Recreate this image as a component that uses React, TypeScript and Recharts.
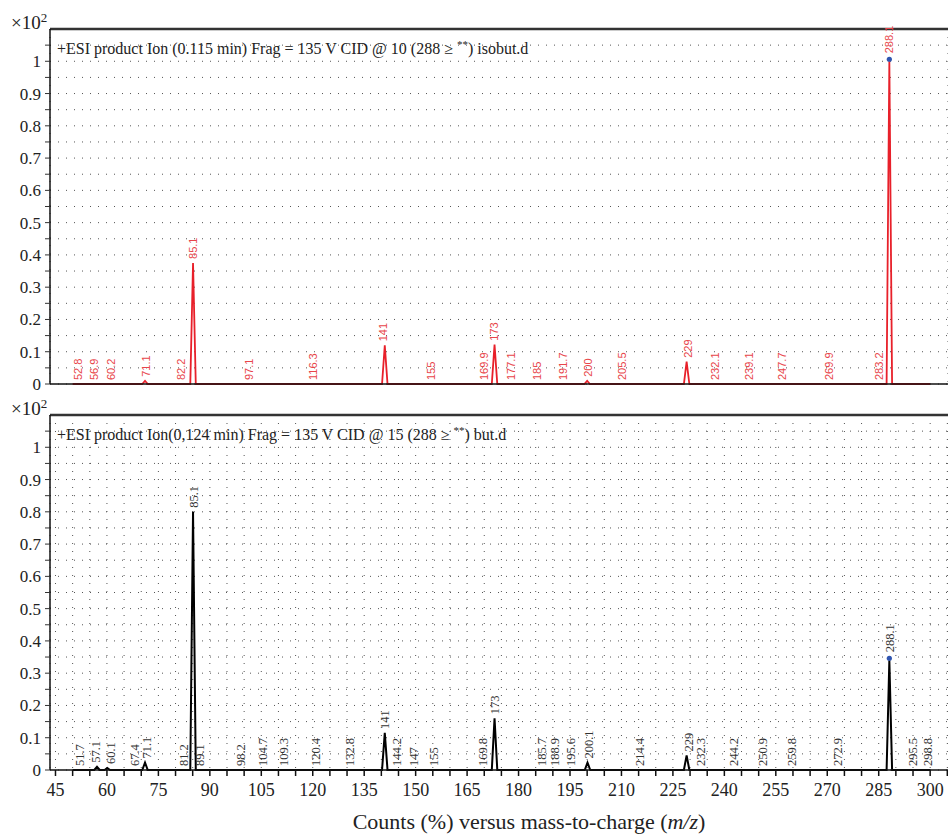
import React from 'react';
import { ComposedChart, Line, Scatter, XAxis, YAxis, CartesianGrid, ReferenceLine } from 'recharts';

// x axis (m/z)
const xTicks = [45, 50, 55, 60, 65, 70, 75, 80, 85, 90, 95, 100, 105, 110, 115, 120, 125, 130, 135, 140, 145, 150, 155, 160, 165, 170, 175, 180, 185, 190, 195, 200, 205, 210, 215, 220, 225, 230, 235, 240, 245, 250, 255, 260, 265, 270, 275, 280, 285, 290, 295, 300, 305];
const xLabelTicks = [45, 60, 75, 90, 105, 120, 135, 150, 165, 180, 195, 210, 225, 240, 255, 270, 285, 300];
const yTicks = [0, 0.05, 0.1, 0.15, 0.2, 0.25, 0.3, 0.35, 0.4, 0.45, 0.5, 0.55, 0.6, 0.65, 0.7, 0.75, 0.8, 0.85, 0.9, 0.95, 1, 1.05];

// top spectrum: isobut.d
const topPeakMz = [71.1, 85.1, 141, 173, 200, 229, 288.1];
const topPeakH = [0.01, 0.375, 0.12, 0.122, 0.01, 0.069, 1.0];
const topLabelText = ['52.8', '56.9', '60.2', '71.1', '82.2', '85.1', '97.1', '116.3', '141', '155', '169.9', '173', '177.1', '185', '191.7', '200', '205.5', '229', '232.1', '239.1', '247.7', '269.9', '283.2', '288.1'];
const topLabelPos = [51.7, 56.2, 61.2, 71.4, 81.5, 85.1, 101.5, 120.1, 140.6, 154.4, 169.9, 172.9, 177.7, 185.5, 192.9, 200.3, 210.1, 229.3, 237.3, 247.3, 256.7, 270.6, 285.2, 288.1];
const topLabelH = [0, 0, 0, 0.01, 0, 0.375, 0, 0, 0.12, 0, 0, 0.122, 0, 0, 0, 0.01, 0, 0.069, 0, 0, 0, 0, 0, 1.0];

// bottom spectrum: but.d
const botPeakMz = [57.1, 60.1, 71.1, 85.1, 141, 173, 200.1, 229, 288.1];
const botPeakH = [0.01, 0.006, 0.023, 0.8, 0.115, 0.16, 0.023, 0.045, 0.34];
const botLabelText = ['51.7', '57.1', '60.1', '67.4', '71.1', '81.2', '85.1', '89.1', '98.2', '104.7', '109.3', '120.4', '132.8', '141', '144.2', '147', '155', '169.8', '173', '185.7', '188.9', '195.6', '200.1', '214.4', '229', '232.3', '244.2', '250.9', '259.8', '272.9', '288.1', '295.5', '298.8'];
const botLabelPos = [51.9, 56.8, 60.9, 68.0, 71.4, 82.3, 85.1, 87.1, 98.8, 105.4, 111.4, 120.7, 130.6, 141, 144.5, 149.5, 155.2, 169.5, 173, 186.7, 190.6, 195.0, 200.3, 215.4, 229.5, 232.9, 242.6, 251.2, 259.6, 272.9, 288.1, 294.9, 299.2];
const botLabelH = [0, 0.01, 0.006, 0, 0.023, 0, 0.8, 0, 0, 0, 0, 0, 0, 0.115, 0, 0, 0, 0, 0.16, 0, 0, 0, 0.023, 0, 0.045, 0, 0, 0, 0, 0, 0.34, 0, 0];

const markedMz = [288.1];

const X_DOMAIN: [number, number] = [43.4, 305.2];
const SERIF = '"Liberation Serif", "DejaVu Serif", serif';

function spectrum(mz: number[], h: number[]) {
  const pts = [{ mz: 50, y: 0 }];
  mz.forEach((m, i) => {
    pts.push({ mz: m - 0.8, y: 0 }, { mz: m, y: h[i] }, { mz: m + 0.8, y: 0 });
  });
  pts.push({ mz: 300, y: 0 });
  return pts;
}

function labels(text: string[], pos: number[], h: number[]) {
  return text.map((t, i) => ({ mz: pos[i], y: h[i], text: t, marked: markedMz.includes(Number(t)) }));
}

const yFmt = (v: number) => {
  const k = Math.round(v * 100);
  if (k % 10 !== 0) return '';
  if (k === 0) return '0';
  if (k === 100) return '1';
  return (k / 100).toString();
};

function makeLabelShape(color: string, font: string, size: number) {
  return (props: any) => {
    const { cx, cy, payload } = props;
    if (cx == null || cy == null) return <g />;
    const y0 = cy - (payload.marked ? 8 : 4);
    return (
      <g>
        {payload.marked && <circle cx={cx} cy={cy - 2} r={2.6} fill="#2f55b0" />}
        <text
          x={cx}
          y={y0}
          transform={`rotate(-90 ${cx} ${y0})`}
          dy="0.36em"
          textAnchor="start"
          fill={color}
          fontFamily={font}
          fontSize={size}
        >
          {payload.text}
        </text>
      </g>
    );
  };
}

function Panel({ peaks, lbls, color, labelColor, labelFont, labelSize, bottom }: any) {
  return (
    <ComposedChart
      width={948}
      height={bottom ? 452 : 400}
      margin={{ top: 29, right: 0, bottom: 0, left: 0 }}
    >
      <CartesianGrid stroke="#555" strokeDasharray="1 7" />
      <XAxis
        type="number"
        dataKey="mz"
        domain={X_DOMAIN}
        ticks={xTicks}
        interval={0}
        height={bottom ? 68 : 16}
        axisLine={{ stroke: '#111', strokeWidth: 1.5 }}
        tickLine={bottom ? { stroke: '#111', strokeWidth: 1.5 } : false}
        tick={bottom ? { fill: '#222', fontSize: 18, fontFamily: SERIF } : false}
        tickSize={6}
        tickMargin={7}
        tickFormatter={(v: number) => (xLabelTicks.includes(v) ? String(v) : '')}
      />
      <YAxis
        type="number"
        domain={[0, 1.1]}
        ticks={yTicks}
        interval={0}
        width={50}
        axisLine={{ stroke: '#111', strokeWidth: 1.5 }}
        tickLine={{ stroke: '#333' }}
        tickSize={5}
        tickMargin={4}
        tick={{ fill: '#222', fontSize: 17, fontFamily: SERIF }}
        tickFormatter={yFmt}
      />
      <ReferenceLine y={1.1} stroke="#333" strokeWidth={2.5} ifOverflow="visible" />
      <Line
        data={peaks}
        dataKey="y"
        type="linear"
        stroke={color}
        strokeWidth={bottom ? 2 : 1.8}
        dot={false}
        activeDot={false}
        isAnimationActive={false}
      />
      <Scatter
        data={lbls}
        dataKey="y"
        shape={makeLabelShape(labelColor, labelFont, labelSize)}
        isAnimationActive={false}
      />
    </ComposedChart>
  );
}

export default function App() {
  const topPeaks = spectrum(topPeakMz, topPeakH);
  const botPeaks = spectrum(botPeakMz, botPeakH);
  const topLbls = labels(topLabelText, topLabelPos, topLabelH);
  const botLbls = labels(botLabelText, botLabelPos, botLabelH);

  const hdr: React.CSSProperties = {
    position: 'absolute',
    left: 57,
    fontFamily: SERIF,
    fontSize: 16,
    color: '#222',
    lineHeight: '16px',
    whiteSpace: 'nowrap',
  };
  const exp: React.CSSProperties = {
    position: 'absolute',
    left: 11,
    fontFamily: SERIF,
    fontSize: 19,
    color: '#222',
    lineHeight: '20px',
  };

  return (
    <div style={{ position: 'relative', width: 948, height: 838, background: '#fff', overflow: 'hidden' }}>
      <style>{'body{margin:0}'}</style>
      <div style={{ position: 'absolute', left: 0, top: 0 }}>
        <Panel peaks={topPeaks} lbls={topLbls} color="#e8202a" labelColor="#e8454a" labelFont='"Liberation Sans", sans-serif' labelSize={11} />
      </div>
      <div style={{ position: 'absolute', left: 0, top: 386 }}>
        <Panel peaks={botPeaks} lbls={botLbls} color="#000" labelColor="#333" labelFont={SERIF} labelSize={12.5} bottom />
      </div>
      <div style={{ ...exp, top: 8 }}>
        ×10<sup style={{ fontSize: 13 }}>2</sup>
      </div>
      <div style={{ ...exp, top: 394 }}>
        ×10<sup style={{ fontSize: 13 }}>2</sup>
      </div>
      <div style={{ ...hdr, top: 36 }}>
        +ESI product Ion (0.115 min) Frag = 135 V CID @ 10 (288 ≥ <sup style={{ fontSize: 11 }}>**</sup>) isobut.d
      </div>
      <div style={{ ...hdr, top: 422 }}>
        +ESI product Ion(0,124 min) Frag = 135 V CID @ 15 (288 ≥ <sup style={{ fontSize: 11 }}>**</sup>) but.d
      </div>
      <div
        style={{
          position: 'absolute',
          left: 329,
          width: 400,
          top: 810,
          textAlign: 'center',
          fontFamily: SERIF,
          fontSize: 22,
          color: '#222',
          lineHeight: '24px',
          whiteSpace: 'nowrap',
        }}
      >
        Counts (%) versus mass-to-charge (<i>m/z</i>)
      </div>
    </div>
  );
}
